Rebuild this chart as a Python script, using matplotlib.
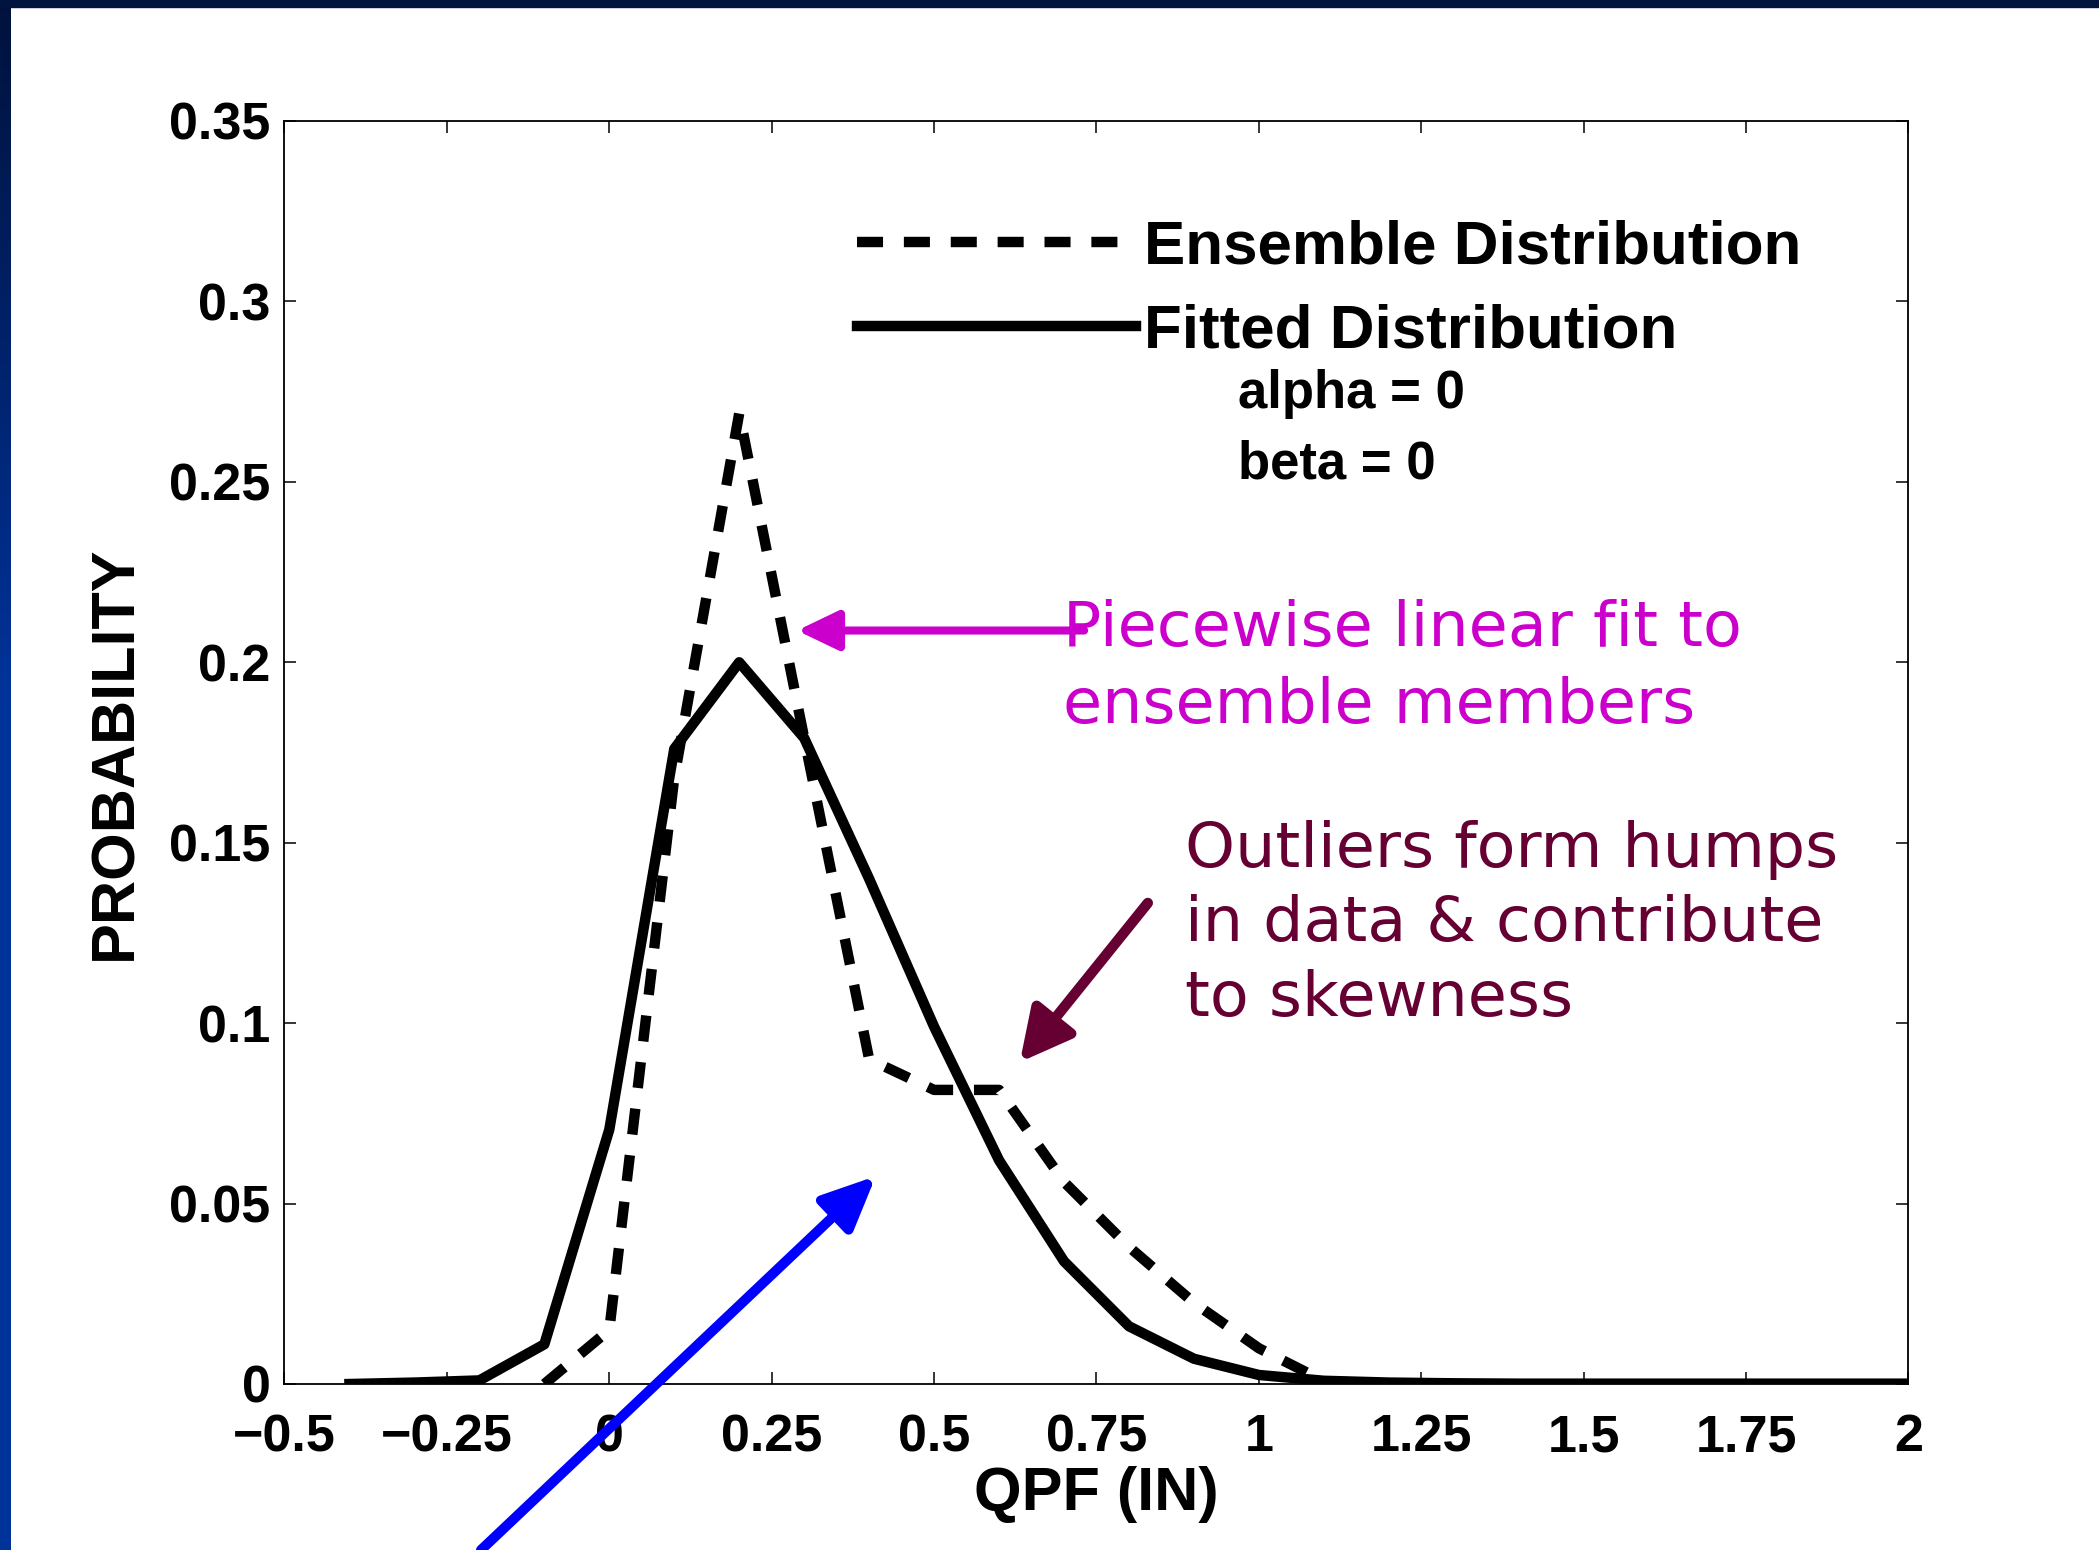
import numpy as np
import matplotlib.pyplot as plt
from matplotlib.colors import LinearSegmentedColormap


# values
qpf_fit = [-0.4, -0.3, -0.2, -0.1, 0.0, 0.1, 0.2, 0.3, 0.4, 0.5, 0.6, 0.7, 0.8,
           0.9, 1.0, 1.1, 1.2, 1.3, 1.4, 1.5, 1.6, 1.7, 1.8, 1.9, 2.0]
prob_fit = [0.0, 0.0004, 0.001, 0.011, 0.0705, 0.176, 0.200, 0.179, 0.140, 0.099,
            0.062, 0.034, 0.016, 0.007, 0.0025, 0.0009, 0.0004, 0.0002, 0.0001,
            0.0001, 0.0001, 0.0001, 0.0001, 0.0001, 0.0001]

qpf_ens = [-0.1, 0.0, 0.1, 0.2, 0.3, 0.4, 0.5, 0.6, 0.7, 0.8, 0.9, 1.0, 1.1, 1.2]
prob_ens = [0.0, 0.015, 0.168, 0.269, 0.179, 0.090, 0.0815, 0.0815, 0.056, 0.038,
            0.0225, 0.0099, 0.0008, 0.0]

x_ticks = [-0.5, -0.25, 0, 0.25, 0.5, 0.75, 1, 1.25, 1.5, 1.75, 2]
x_tick_labels = ["\u22120.5", "\u22120.25", "0", "0.25", "0.5", "0.75", "1",
                 "1.25", "1.5", "1.75", "2"]
y_ticks = [0, 0.05, 0.1, 0.15, 0.2, 0.25, 0.3, 0.35]
y_tick_labels = ["0", "0.05", "0.1", "0.15", "0.2", "0.25", "0.3", "0.35"]

legend_labels = ["Ensemble Distribution", "Fitted Distribution"]
param_lines = ["alpha = 0", "beta = 0"]

note_pink = "Piecewise linear fit to\nensemble members"
note_maroon = "Outliers form humps\nin data & contribute\nto skewness"

plt.rcParams["font.family"] = ["Liberation Sans", "DejaVu Sans"]

fig = plt.figure(figsize=(20.99, 15.5), dpi=100)
fig.patch.set_facecolor("white")

# slide frame: dark band on top, blue gradient band on the left
top_band = plt.Rectangle((0, 1 - 7 / 1550), 1, 7 / 1550, transform=fig.transFigure,
                         color="#00143f", zorder=0)
fig.patches.append(top_band)
side = fig.add_axes([0, 0, 11 / 2099, 1], zorder=-5)
side.set_axis_off()
side_cmap = LinearSegmentedColormap.from_list(
    "side", [(0, "#00123c"), (0.45, "#00339a"), (1, "#003399")])
side.imshow(np.linspace(0, 1, 256).reshape(-1, 1), cmap=side_cmap, aspect="auto",
            extent=[0, 1, 0, 1])

ax = fig.add_axes([0.13554, 0.10710, 0.77370, 0.81484])

ax.plot(qpf_ens, prob_ens, color="black", lw=7.5, linestyle=(0, (2.5, 2.0)),
        dash_capstyle="butt", label=legend_labels[0])
ax.plot(qpf_fit, prob_fit, color="black", lw=7.5, label=legend_labels[1])

ax.set_xlim(-0.5, 2)
ax.set_ylim(0, 0.35)
ax.set_xticks(x_ticks)
ax.set_xticklabels(x_tick_labels)
ax.set_yticks(y_ticks)
ax.set_yticklabels(y_tick_labels)
for lbl in ax.get_xticklabels() + ax.get_yticklabels():
    lbl.set_fontweight("bold")
    lbl.set_fontsize(37.5)
ax.tick_params(direction="in", length=8.6, width=1.1, top=True, right=True)
ax.tick_params(axis="x", pad=21)
ax.tick_params(axis="y", pad=10)
for sp in ax.spines.values():
    sp.set_linewidth(1.3)

ax.set_xlabel("QPF (IN)", fontsize=44, fontweight="bold")
ax.set_ylabel("PROBABILITY", fontsize=44, fontweight="bold")
ax.xaxis.set_label_coords(0.5, -0.065)
ax.yaxis.set_label_coords(-0.086, 0.5)

ax.legend(loc="center left", bbox_to_anchor=(0.3525, 0.866), frameon=False,
          prop={"family": "Liberation Sans", "weight": "bold", "size": 44.6},
          handlelength=4.5, handletextpad=0.14, labelspacing=0.44,
          borderpad=0, borderaxespad=0)

ax.text(0.587, 0.773, param_lines[0], transform=ax.transAxes, fontsize=38,
        fontweight="bold", va="baseline")
ax.text(0.587, 0.7166, param_lines[1], transform=ax.transAxes, fontsize=38,
        fontweight="bold", va="baseline")

# annotations (y given at the baseline of the last text line)
ax.text(0.698, 0.1833, note_pink, color="#cc00cc", fontsize=45.7,
        family="DejaVu Sans", va="baseline", linespacing=1.36)
ax.annotate("", xy=(0.289, 0.2088), xytext=(0.731, 0.2088),
            arrowprops=dict(arrowstyle="-|>,head_length=0.5,head_width=0.24",
                            mutation_scale=50, color="#cc00cc", lw=5.8,
                            shrinkA=0, shrinkB=0))

ax.text(0.886, 0.102, note_maroon, color="#660033", fontsize=45.7,
        family="DejaVu Sans", va="baseline", linespacing=1.31)
ax.annotate("", xy=(0.632, 0.0892), xytext=(0.829, 0.1333),
            arrowprops=dict(arrowstyle="-|>,head_length=0.62,head_width=0.32",
                            mutation_scale=50, color="#660033", lw=7.5,
                            shrinkA=0, shrinkB=0))

ax.annotate("", xy=(0.4103, 0.0576), xytext=(-0.1975, -0.046),
            annotation_clip=False,
            arrowprops=dict(arrowstyle="-|>,head_length=0.64,head_width=0.29",
                            mutation_scale=50, color="#0000ff", lw=7.2,
                            shrinkA=0, shrinkB=0))

fig.savefig("out.png", dpi=100)
